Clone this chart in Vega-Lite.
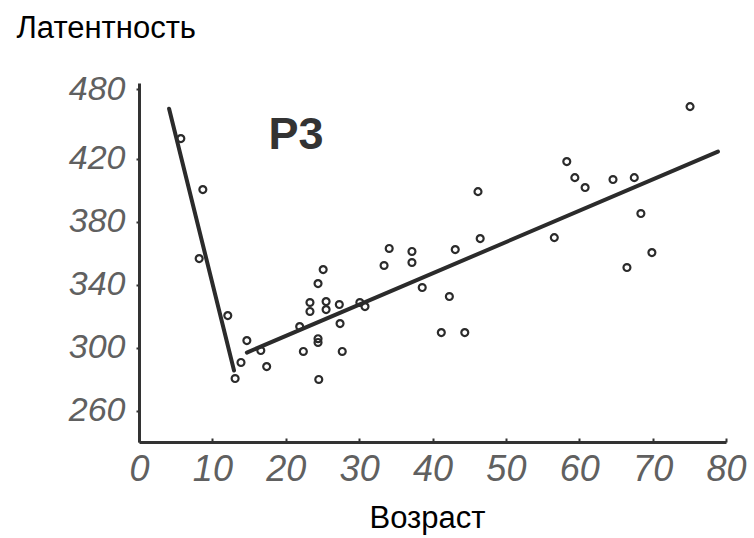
{
  "$schema": "https://vega.github.io/schema/vega-lite/v6.json",
  "width": 587,
  "height": 359,
  "autosize": {"type": "none"},
  "padding": {"left": 139, "top": 83, "right": 28, "bottom": 96},
  "background": "white",
  "config": {
    "view": {"stroke": null},
    "font": "Liberation Sans"
  },
  "datasets": {
    "points": [
      {"age": 5.7, "lat": 432.7},
      {"age": 8.7, "lat": 400.3},
      {"age": 8.2, "lat": 356.5},
      {"age": 12.1, "lat": 320.3},
      {"age": 13.9, "lat": 290.5},
      {"age": 13.1, "lat": 280.3},
      {"age": 14.7, "lat": 304.4},
      {"age": 16.6, "lat": 298.1},
      {"age": 17.4, "lat": 287.9},
      {"age": 22.4, "lat": 297.5},
      {"age": 24.4, "lat": 305.6},
      {"age": 24.4, "lat": 303.2},
      {"age": 24.5, "lat": 279.7},
      {"age": 25.1, "lat": 349.5},
      {"age": 24.4, "lat": 340.6},
      {"age": 23.3, "lat": 328.6},
      {"age": 23.3, "lat": 322.9},
      {"age": 25.5, "lat": 329.2},
      {"age": 25.5, "lat": 324.1},
      {"age": 27.3, "lat": 327.3},
      {"age": 27.4, "lat": 315.2},
      {"age": 27.7, "lat": 297.5},
      {"age": 21.9, "lat": 313.3},
      {"age": 30.1, "lat": 328.6},
      {"age": 30.8, "lat": 326.0},
      {"age": 34.1, "lat": 362.9},
      {"age": 33.4, "lat": 352.1},
      {"age": 37.2, "lat": 361.0},
      {"age": 37.2, "lat": 354.0},
      {"age": 38.6, "lat": 338.1},
      {"age": 43.1, "lat": 362.2},
      {"age": 46.5, "lat": 369.2},
      {"age": 42.3, "lat": 332.4},
      {"age": 41.2, "lat": 309.5},
      {"age": 44.4, "lat": 309.5},
      {"age": 46.2, "lat": 399.0},
      {"age": 56.6, "lat": 369.8},
      {"age": 58.3, "lat": 418.1},
      {"age": 59.4, "lat": 407.9},
      {"age": 60.8, "lat": 401.6},
      {"age": 64.6, "lat": 406.7},
      {"age": 67.5, "lat": 407.9},
      {"age": 68.4, "lat": 385.1},
      {"age": 69.9, "lat": 360.3},
      {"age": 66.5, "lat": 350.8},
      {"age": 75.1, "lat": 453.0}
    ],
    "lines": [
      {"seg": "young", "age": 4.1, "lat": 451.7},
      {"seg": "young", "age": 12.95, "lat": 285.4},
      {"seg": "adult", "age": 14.7, "lat": 296.8},
      {"seg": "adult", "age": 78.9, "lat": 424.4}
    ],
    "labels": [
      {"text": "P3", "age": 21.4, "lat": 435.2}
    ]
  },
  "layer": [
    {
      "data": {"name": "lines"},
      "mark": {"type": "line", "color": "#2b2b2b", "strokeWidth": 4, "strokeCap": "round"},
      "encoding": {
        "x": {
          "field": "age", "type": "quantitative",
          "scale": {"domain": [0, 80], "nice": false, "zero": false},
          "axis": {
            "values": [0, 5, 10, 15, 20, 25, 30, 35, 40, 45, 50, 55, 60, 65, 70, 75, 80],
            "labelExpr": "datum.value % 10 == 0 ? datum.label : ''",
            "grid": false,
            "domainColor": "#333333",
            "domainWidth": 3,
            "tickColor": "#333333",
            "tickWidth": 2,
            "tickSize": -4,
            "labelPadding": 14,
            "labelFont": "Liberation Sans",
            "labelFontStyle": "italic",
            "labelFontSize": 36,
            "labelColor": "#606060",
            "labelBaseline": "top",
            "labelFlush": false,
            "labelOverlap": false,
            "title": "Возраст",
            "titleFont": "Liberation Sans",
            "titleFontSize": 31,
            "titleFontWeight": "normal",
            "titleColor": "#000000",
            "titleX": 288,
            "titleY": 76,
            "titleBaseline": "middle",
            "titleAlign": "center"
          }
        },
        "y": {
          "field": "lat", "type": "quantitative",
          "scale": {"domain": [240, 468], "nice": false, "zero": false},
          "axis": {
            "values": [260, 280, 300, 320, 340, 360, 380, 400, 420, 442, 464],
            "labelExpr": "datum.value == 464 ? '480' : (datum.value % 40 == 20 ? datum.label : '')",
            "grid": false,
            "domainColor": "#333333",
            "domainWidth": 3,
            "tickColor": "#333333",
            "tickWidth": 2,
            "tickSize": 3,
            "labelPadding": 11,
            "labelFont": "Liberation Sans",
            "labelFontStyle": "italic",
            "labelFontSize": 34,
            "labelColor": "#606060",
            "labelOverlap": false,
            "labelFlush": false,
            "title": "Латентность",
            "titleFont": "Liberation Sans",
            "titleFontSize": 31,
            "titleFontWeight": "normal",
            "titleColor": "#000000",
            "titleAngle": 0,
            "titleX": -123,
            "titleY": -55,
            "titleAlign": "left",
            "titleBaseline": "middle"
          }
        },
        "detail": {"field": "seg"}
      }
    },
    {
      "data": {"name": "points"},
      "mark": {"type": "point", "shape": "circle", "filled": false, "color": "#2b2b2b", "strokeWidth": 2.2, "size": 48, "opacity": 1},
      "encoding": {
        "x": {"field": "age", "type": "quantitative"},
        "y": {"field": "lat", "type": "quantitative"}
      }
    },
    {
      "data": {"name": "labels"},
      "mark": {"type": "text", "font": "Liberation Sans", "fontWeight": "bold", "fontSize": 45, "color": "#333333", "align": "center", "baseline": "middle"},
      "encoding": {
        "x": {"field": "age", "type": "quantitative"},
        "y": {"field": "lat", "type": "quantitative"},
        "text": {"field": "text"}
      }
    }
  ]
}
